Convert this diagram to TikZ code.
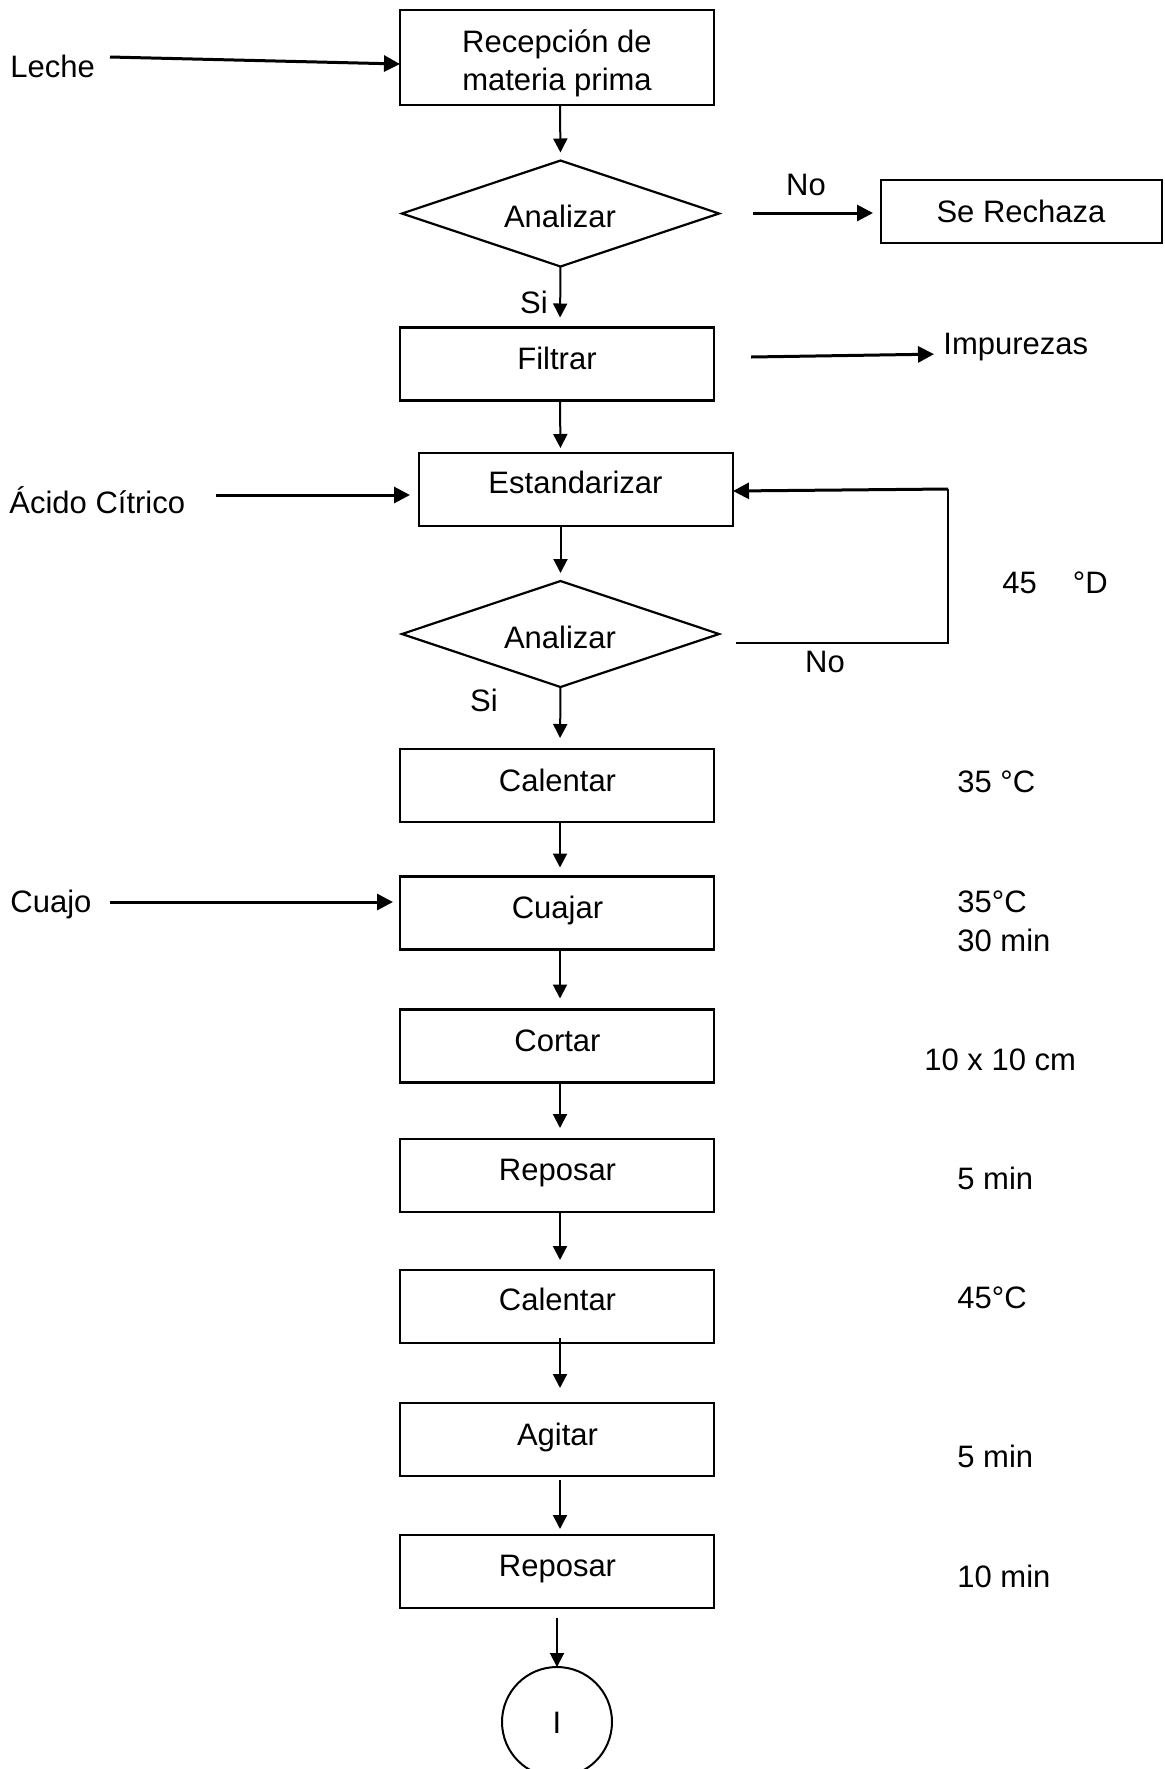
\documentclass[tikz,border=0pt]{standalone}
\usepackage{fontspec}
\setmainfont{Liberation Sans}
\usetikzlibrary{shapes.geometric,arrows.meta}
\begin{document}
\begin{tikzpicture}[x=0.5pt,y=-0.5pt,
  txt/.style={font=\fontsize{15.5}{19}\selectfont,inner sep=0pt,anchor=base},
  ltxt/.style={txt,anchor=base west},
  box/.style={draw,line width=1.2pt,rectangle,minimum width=157pt,minimum height=36.5pt,inner sep=0pt,outer sep=0pt},
  decision/.style={draw,diamond,line width=1.1pt,minimum width=158.5pt,minimum height=53pt,inner sep=0pt,outer sep=0pt},
  terminal/.style={draw,circle,line width=1pt,minimum size=55pt,inner sep=0pt,outer sep=0pt},
  flow/.style={line width=1pt,-{Triangle[length=7pt,width=7pt]}},
  inflow/.style={line width=1.5pt,-{Triangle[length=8pt,width=8pt]}},
  thinline/.style={line width=0.6pt}]

% page frame
\clip (0,0) rectangle (1165,1769);
\fill[white] (0,0) rectangle (1165,1769);

% main process column
\node[box,minimum height=47.5pt] (rec) at (557,57.5) {};
\node[txt] (rec-a) at (557,52) {Recepción de};
\node[txt] (rec-b) at (557,90) {materia prima};

\node[decision] (d1) at (560.5,213.5) {};
\node[txt] (d1-t) at (560,227) {Analizar};

\node[box,minimum width=140.5pt,minimum height=31.5pt] (rech) at (1021.5,211.5) {};
\node[txt] (rech-t) at (1021,222) {Se Rechaza};

\node[box] (fil) at (557,364) {};
\node[txt] (fil-t) at (557,369) {Filtrar};

\node[box] (est) at (576,489.5) {};
\node[txt] (est-t) at (575.5,493) {Estandarizar};

\node[decision] (d2) at (560.5,634) {};
\node[txt] (d2-t) at (560,648) {Analizar};

\node[box] (cal1) at (557,785.5) {};
\node[txt] (cal1-t) at (557.5,791) {Calentar};

\node[box] (cua) at (557,913) {};
\node[txt] (cua-t) at (557.5,918) {Cuajar};

\node[box] (cor) at (557,1046) {};
\node[txt] (cor-t) at (557.5,1051) {Cortar};

\node[box] (rep1) at (557,1175.5) {};
\node[txt] (rep1-t) at (557.5,1180) {Reposar};

\node[box] (cal2) at (557,1306.5) {};
\node[txt] (cal2-t) at (557.5,1310) {Calentar};

\node[box] (agi) at (557,1439.5) {};
\node[txt] (agi-t) at (557.5,1445) {Agitar};

\node[box] (rep2) at (557,1571.5) {};
\node[txt] (rep2-t) at (557.5,1576) {Reposar};

\node[terminal] (fin) at (557,1722) {};
\node[txt] (fin-t) at (557,1733) {I};

% inputs and outputs
\node[ltxt] (leche) at (10,77) {Leche};
\node[ltxt] (acido) at (9,513) {Ácido Cítrico};
\node[ltxt] (cuajo) at (10,912) {Cuajo};
\node[ltxt] (impu) at (943,354) {Impurezas};

% branch labels
\node[txt] (no1) at (806,195) {No};
\node[txt] (si1) at (534,313) {Si};
\node[txt] (no2) at (825,672) {No};
\node[txt] (si2) at (484,711) {Si};

% process conditions
\node[ltxt] (p-deg) at (1002,593) {45\hspace{18pt}°D};
\node[ltxt] (p-cal1) at (957,792) {35 °C};
\node[ltxt] (p-cua1) at (957,912) {35°C};
\node[ltxt] (p-cua2) at (957,951) {30 min};
\node[ltxt] (p-cor) at (924,1070) {10 x 10 cm};
\node[ltxt] (p-rep1) at (957,1189) {5 min};
\node[ltxt] (p-cal2) at (957,1308) {45°C};
\node[ltxt] (p-agi) at (957,1467) {5 min};
\node[ltxt] (p-rep2) at (957,1587) {10 min};

% free ends of the side connectors
\coordinate (lecheA) at (110,57);
\coordinate (acidoA) at (216,495);
\coordinate (cuajoA) at (110,902);
\coordinate (impA) at (751,357);
\coordinate (noA) at (753,213);
\coordinate (loopTop) at (948,489);
\coordinate (loopBot) at (948,643);
\coordinate (loopEnd) at (736,643);

% vertical flow
\draw[flow,shorten >=4pt] ([xshift=1.5pt]rec.south) -- (d1.north);
\draw[flow,shorten >=5pt] (d1.south) -- ([xshift=1.5pt]fil.north);
\draw[flow,shorten >=2.5pt] ([xshift=1.5pt]fil.south) -- (est.north -| d1.south);
\draw[flow,shorten >=4pt] (est.south -| d2.north) -- (d2.north);
\draw[flow,shorten >=5.5pt] (d2.south) -- ([xshift=1.5pt]cal1.north);
\draw[flow,shorten >=4.5pt] ([xshift=1.5pt]cal1.south) -- ([xshift=1.5pt]cua.north);
\draw[flow,shorten >=5.5pt] ([xshift=1.5pt]cua.south) -- ([xshift=1.5pt]cor.north);
\draw[flow,shorten >=5.5pt] ([xshift=1.5pt]cor.south) -- ([xshift=1.5pt]rep1.north);
\draw[flow,shorten >=5pt] ([xshift=1.5pt]rep1.south) -- ([xshift=1.5pt]cal2.north);
\draw[flow,shorten <=-2.5pt,shorten >=7.5pt] ([xshift=1.5pt]cal2.south) -- ([xshift=1.5pt]agi.north);
\draw[flow,shorten <=2pt,shorten >=3pt] ([xshift=1.5pt]agi.south) -- ([xshift=1.5pt]rep2.north);
\draw[flow,shorten <=5pt] (rep2.south) -- (fin.north);

% side connectors
\draw[inflow] (lecheA) -- (rec.west |- 0,64);
\draw[inflow,shorten >=4.5pt] (acidoA) -- (est.west |- acidoA);
\draw[inflow,shorten >=3.5pt] (cuajoA) -- (cua.west |- cuajoA);
\draw[inflow,shorten >=4pt] (noA) -- (rech.west |- noA);
\draw[inflow,shorten >=4.5pt] (impA) -- (impu.west |- 0,354);
\draw[inflow] (loopTop) -- (est.east |- 0,491);
\draw[thinline] (loopTop) -- (loopBot) -- (loopEnd);
\end{tikzpicture}
\end{document}
